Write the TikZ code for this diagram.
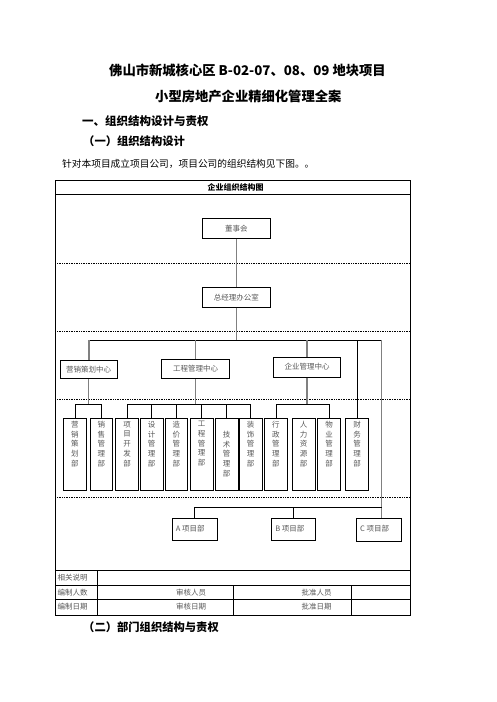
\documentclass[tikz,border=0pt]{standalone}
\usepackage{fontspec}
\setmainfont{Noto Sans CJK SC}
\begin{document}
\begin{tikzpicture}[x=1pt,y=-1pt,
  txt/.style={inner sep=0pt},
  box/.style={draw=black,line width=0.8pt,fill=white,inner sep=0pt,font=\fontsize{7.5}{9}\selectfont,text=black!65},
  dept/.style={box,minimum width=22.8pt,minimum height=71.7pt,font=\fontsize{7.5}{9.75}\selectfont},
  gl/.style={draw=black!50,line width=1.2pt},
  bl/.style={draw=black,line width=0.7pt},
  frame/.style={draw=black,line width=0.9pt},
  thin/.style={draw=black,line width=0.7pt},
  dsh/.style={draw=black,line width=0.7pt,dash pattern=on 1pt off 0.7pt},
  small/.style={inner sep=0pt,font=\fontsize{7.5}{9}\selectfont,text=black!65}
]
\fill[white] (0,0) rectangle (496,702);
\useasboundingbox (0,0) rectangle (496,702);

% headings
\node[txt,font=\bfseries\fontsize{13.3}{15}\selectfont] (t1) at (247.5,70) {佛山市新城核心区 B-02-07、08、09 地块项目};
\node[txt,font=\bfseries\fontsize{13.3}{15}\selectfont] (t2) at (248.3,96) {小型房地产企业精细化管理全案};
\node[txt,anchor=west,font=\bfseries\fontsize{11.5}{13}\selectfont] (h1) at (82,121.5) {一、组织结构设计与责权};
\node[txt,anchor=west,font=\bfseries\fontsize{11.3}{13}\selectfont] (h2) at (83,141) {（一）组织结构设计};
\node[txt,anchor=west,font=\fontsize{9.7}{11}\selectfont] (p1) at (62,163.5) {针对本项目成立项目公司，项目公司的组织结构见下图。。};
\node[txt,anchor=west,font=\bfseries\fontsize{11.3}{13}\selectfont] (h3) at (83,627.5) {（二）部门组织结构与责权};

% table frame
\draw[frame] (55.3,180.3) rectangle (410.3,615);
\draw[frame] (55.3,194.5) -- (410.3,194.5);
\node[txt,font=\bfseries\fontsize{8}{9}\selectfont] (hdr) at (235.5,187.4) {企业组织结构图};
\foreach \yy in {263.5,331,399,497} \draw[dsh] (55.3,\yy) -- (410.3,\yy);
\draw[frame] (55.3,570.7) -- (410.3,570.7);
\draw[thin] (55.3,585) -- (410.3,585);
\draw[thin] (55.3,599.3) -- (410.3,599.3);
\draw[thin] (97.5,570.7) -- (97.5,615);
\draw[thin] (233.3,585) -- (233.3,615);
\draw[thin] (351.7,585) -- (351.7,615);
\node[small,anchor=west] (r1) at (57.5,578) {相关说明};
\node[small,anchor=west] (r2) at (57.5,592.2) {编制人数};
\node[small,anchor=west] (r3) at (57.5,606.5) {编制日期};
\node[small] (r4) at (191,592.2) {审核人员};
\node[small] (r5) at (191,606.5) {审核日期};
\node[small] (r6) at (316.7,592.2) {批准人员};
\node[small] (r7) at (316.7,606.5) {批准日期};

% chart nodes
\node[box,minimum width=68pt,minimum height=20pt] (board) at (236.3,228.3) {董事会};
\node[box,minimum width=68pt,minimum height=20pt] (gm) at (236.3,297.3) {总经理办公室};
\node[box,minimum width=57pt,minimum height=18.7pt] (yx) at (88.5,369.3) {营销策划中心};
\node[box,minimum width=67.6pt,minimum height=19.4pt] (gc) at (195.5,369) {工程管理中心};
\node[box,minimum width=67.2pt,minimum height=20pt] (qy) at (307,367.3) {\raisebox{2pt}{企业管理中心}};

\newcommand{\vtext}[2][0pt]{\parbox[c][66pt][t]{10pt}{\centering\vspace*{#1}#2}}
\node[dept] (d1) at (75,454.15) {\vtext{营\\销\\策\\划\\部}};
\node[dept] (d2) at (101.35,454.15) {\vtext{销\\售\\管\\理\\部}};
\node[dept] (d3) at (127.15,454.15) {\vtext{项\\目\\开\\发\\部}};
\node[dept] (d4) at (151.65,454.15) {\vtext{设\\计\\管\\理\\部}};
\node[dept] (d5) at (176.35,454.15) {\vtext{造\\价\\管\\理\\部}};
\node[dept] (d6) at (201.65,454.15) {\vtext{工\\程\\管\\理\\部}};
\node[dept] (d7) at (226.65,454.15) {\vtext[10pt]{技\\术\\管\\理\\部}};
\node[dept] (d8) at (250.5,454.15) {\vtext{装\\饰\\管\\理\\部}};
\node[dept] (d9) at (275.85,454.15) {\vtext{行\\政\\管\\理\\部}};
\node[dept] (d10) at (303.65,454.15) {\vtext{人\\力\\资\\源\\部}};
\node[dept] (d11) at (329,454.15) {\vtext{物\\业\\管\\理\\部}};
\node[dept] (d12) at (357,454.15) {\vtext{财\\务\\管\\理\\部}};

\node[box,minimum width=45pt,minimum height=22.4pt] (pa) at (194.8,529.5) {\raisebox{2.5pt}{\makebox[38pt][l]{A 项目部}}};
\node[box,minimum width=43.3pt,minimum height=22.4pt] (pb) at (293.35,529.5) {\raisebox{2.5pt}{\makebox[36pt][l]{B 项目部}}};
\node[box,minimum width=45pt,minimum height=23.4pt] (pc) at (379.2,530) {\raisebox{3pt}{\makebox[38pt][l]{C 项目部}}};

% connectors
\coordinate (j) at (236.3,340);
\coordinate (busL) at (89,340);
\coordinate (busR) at (381.5,340);
\coordinate (sb) at (0,404);
\coordinate (pbus) at (0,507.3);
\draw[gl] (board) -- (gm);
\draw[gl] (gm) -- (j);
\draw[bl] (busL) -- (busR);
\draw[gl] (busL) -- (busL |- yx.north);
\draw[gl] (gc.north) -- (gc.north |- j);
\draw[gl] (qy.north) -- (qy.north |- j);
\draw[bl] (busR -| d12.north) -- (d12.north);
\draw[gl] (busR) -- (busR |- pc.north);

\draw[gl] (yx.south) -- (yx.south |- sb);
\draw[bl] (d1.north) |- (d2.north |- sb) -- (d2.north);
\draw[gl] (gc.south) -- (gc.south |- sb);
\draw[bl] (d3.north) |- (d8.north |- sb) -- (d8.north);
\foreach \d in {d4,d5,d6,d7} \draw[bl] (\d.north) -- (\d.north |- sb);
\draw[gl] (qy.south) -- (qy.south |- sb);
\draw[bl] (d9.north) |- (d11.north |- sb) -- (d11.north);

\draw[bl] (pa.north) |- (busR |- pbus);
\draw[bl] (pb.north) -- (pb.north |- pbus);
\end{tikzpicture}
\end{document}
